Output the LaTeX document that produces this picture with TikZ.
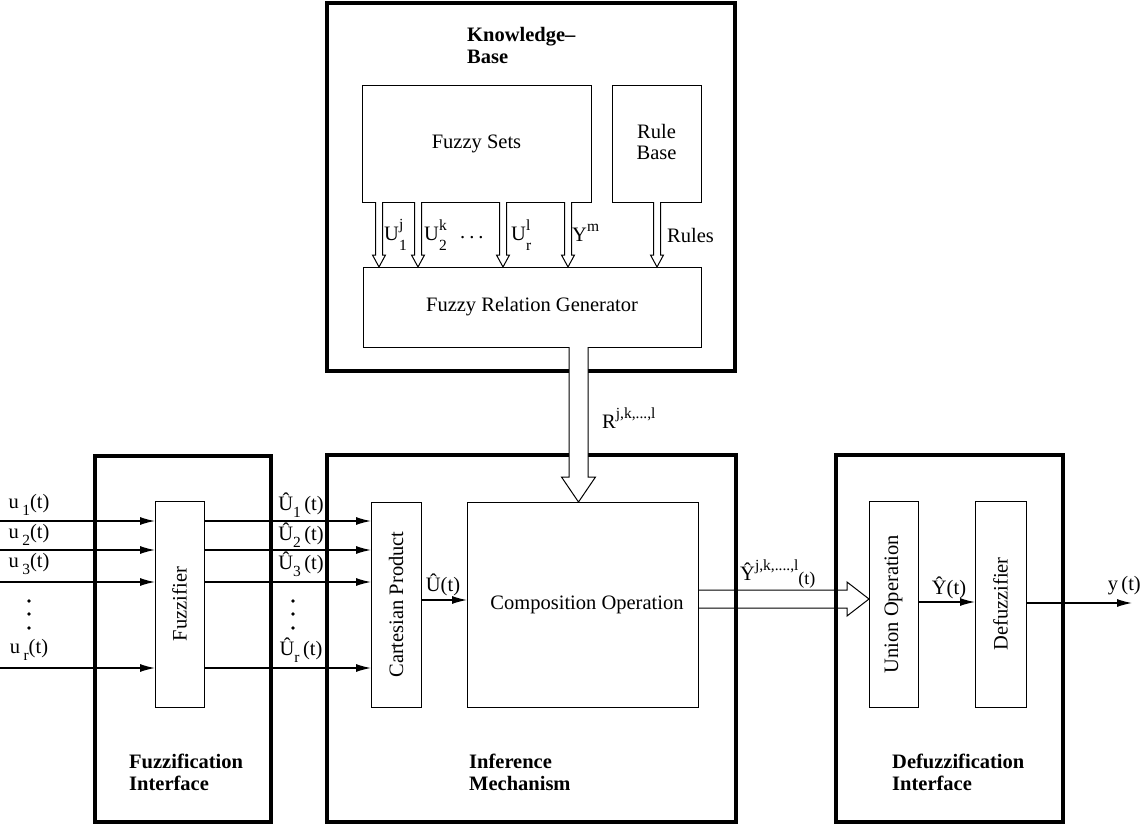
\documentclass[tikz,border=0pt]{standalone}
\usepackage{fontspec}
\setmainfont{Liberation Serif}
\usetikzlibrary{arrows.meta,calc}
\newcommand\lo[1]{\raisebox{-0.32em}{\fontsize{15.5}{15.5}\selectfont #1}}
\newcommand\llo[1]{\raisebox{-0.5em}{\fontsize{15.5}{15.5}\selectfont #1}}
\newcommand\hi[1]{\raisebox{0.5em}{\fontsize{15.5}{15.5}\selectfont #1}}
\begin{document}
\begin{tikzpicture}[x=1pt,y=-1pt,
  outer/.style={draw,line width=3.5pt,inner sep=0pt,outer sep=0pt},
  blk/.style={draw,line width=1pt,inner sep=0pt,outer sep=0pt,font=\fontsize{20.5}{24}\selectfont},
  lab/.style={inner sep=0pt,font=\fontsize{20.5}{24}\selectfont},
  blab/.style={inner sep=0pt,font=\fontsize{20.5}{22}\selectfont\bfseries,align=left,anchor=west},
  arr/.style={line width=1.3pt,-{Latex[length=15pt,width=8pt]}},
  hol/.style={line width=1pt,fill=white},
  dot/.style={fill,circle,inner sep=0pt,minimum size=3.6pt}]
\useasboundingbox[fill=white] (0,0) rectangle (1141,832);

% outer modules
\node[outer,minimum width=408pt,minimum height=368pt] (kb) at (531,187) {};
\node[outer,minimum width=176pt,minimum height=366pt] (fi) at (183,639) {};
\node[outer,minimum width=409pt,minimum height=367pt] (im) at (531.5,638.5) {};
\node[outer,minimum width=227pt,minimum height=367pt] (di) at (949.5,638.5) {};

% module titles
\node[blab] (kbt) at (467,45) {Knowledge--\\Base};
\node[blab] (fit) at (129,772) {Fuzzification\\Interface};
\node[blab] (imt) at (469,772) {Inference\\Mechanism};
\node[blab] (dit) at (892,772) {Defuzzification\\Interface};

% inner blocks
\node[blk,minimum width=229pt,minimum height=116pt] (fs) at (476.5,144) {\raisebox{-5pt}{Fuzzy Sets}};
\node[blk,minimum width=89pt,minimum height=116pt] (rb) at (656.5,144) {\raisebox{-6pt}{\begin{tabular}{@{}c@{}}Rule\\[-3pt]Base\end{tabular}}};
\node[blk,minimum width=338pt,minimum height=80pt] (frg) at (532,307) {Fuzzy Relation Generator};
\node[blk,minimum width=49pt,minimum height=206pt] (fz) at (179.5,604) {\rotatebox{90}{Fuzzifier}};
\node[blk,minimum width=50pt,minimum height=205pt] (cp) at (396,604.5) {\rotatebox{90}{Cartesian Product}};
\node[blk,minimum width=231pt,minimum height=205pt] (co) at (582.5,604.5) {\hspace*{9pt}Composition Operation};
\node[blk,minimum width=49pt,minimum height=206pt] (uo) at (893.5,604) {\rotatebox{90}{Union Operation}};
\node[blk,minimum width=51pt,minimum height=206pt] (df) at (1000.5,604) {\rotatebox{90}{Defuzzifier}};

% hollow arrows fuzzy sets / rule base -> generator
\foreach \xx/\src in {379/fs,418/fs,503/fs,568/fs,657/rb}{
  \coordinate (hx) at (\xx,0);
  \draw[hol] ($(hx |- \src.south)+(-3.5,0)$) -- ($(hx |- frg.north)+(-3.5,-12)$)
     -- ($(hx |- frg.north)+(-6.5,-12)$) -- (hx |- frg.north)
     -- ($(hx |- frg.north)+(6.5,-12)$) -- ($(hx |- frg.north)+(3.5,-12)$)
     -- ($(hx |- \src.south)+(3.5,0)$);
}
\node[lab,anchor=west] (l1) at (384,235) {U\rlap{\hi{j}}\llo{1}};
\node[lab,anchor=west] (l2) at (424,235) {U\rlap{\hi{k}}\llo{2}};
\node[lab,anchor=west] (l3) at (460,238) {.\hspace{4pt}.\hspace{4pt}.};
\node[lab,anchor=west] (l4) at (511,235) {U\rlap{\hi{l}}\llo{r}};
\node[lab,anchor=west] (l5) at (572,233) {Y\hi{m}};
\node[lab,anchor=west] (l6) at (667,235) {Rules};

% R arrow generator -> composition
\coordinate (rx) at (578.5,0);
\draw[hol] ($(rx |- frg.south)+(-9.5,0)$) -- ($(rx |- co.north)+(-9.5,-25)$)
   -- ($(rx |- co.north)+(-17,-25)$) -- (rx |- co.north)
   -- ($(rx |- co.north)+(17,-25)$) -- ($(rx |- co.north)+(9.5,-25)$)
   -- ($(rx |- frg.south)+(9.5,0)$);
\node[lab,anchor=west] (rl) at (602,418) {R\hi{j,k,...,l}};

% inputs
\foreach \i/\yy in {1/521,2/550,3/582,4/668}{
  \coordinate (in\i) at (0,\yy);
  \draw[arr] (in\i) -- (in\i -| fz.west);
  \draw[arr] (in\i -| fz.east) -- (in\i -| cp.west);
}
\node[lab] (u1) at (29,505) {u\,\lo{1}(t)};
\node[lab] (u2) at (29,535) {u\,\lo{2}(t)};
\node[lab] (u3) at (29,564) {u\,\lo{3}(t)};
\node[lab] (ur) at (29,650) {u\,\lo{r}(t)};
\node[lab] (U1) at (301,505) {Û\lo{1}\,(t)};
\node[lab] (U2) at (301,535) {Û\lo{2}\,(t)};
\node[lab] (U3) at (301,564) {Û\lo{3}\,(t)};
\node[lab] (Ur) at (301,650) {Û\lo{r}\,(t)};
\foreach \xx in {29,293}{
  \node[dot] at (\xx,601) {};
  \node[dot] at (\xx,614) {};
  \node[dot] at (\xx,628) {};
}

% cartesian -> composition
\coordinate (uy) at (0,600);
\draw[arr] (uy -| cp.east) -- (uy -| co.west);
\node[lab] (ul) at (443,585) {Û(t)};

% composition -> union (hollow)
\coordinate (yy) at (847,599);
\draw[hol,fill=none] ($(yy -| co.east)+(0,-9)$) -- ($(yy)+(0,-9)$) -- ($(yy)+(0,-17)$)
   -- (yy -| uo.west) -- ($(yy)+(0,17)$) -- ($(yy)+(0,9)$) -- ($(yy -| co.east)+(0,9)$);
\node[lab,anchor=west] (yl) at (740,574) {Ŷ\hi{j,k,....,l}\raisebox{-0.2em}{\fontsize{18}{18}\selectfont(t)}};

% union -> defuzzifier -> out
\coordinate (y2) at (0,602);
\draw[arr] (y2 -| uo.east) -- (y2 -| df.west);
\node[lab] (yh) at (949,588) {Ŷ(t)};
\coordinate (out) at (1132,603);
\draw[arr] (out -| df.east) -- (out);
\node[lab,anchor=east] (yo) at (1141,586) {y\,(t)};
\end{tikzpicture}
\end{document}
